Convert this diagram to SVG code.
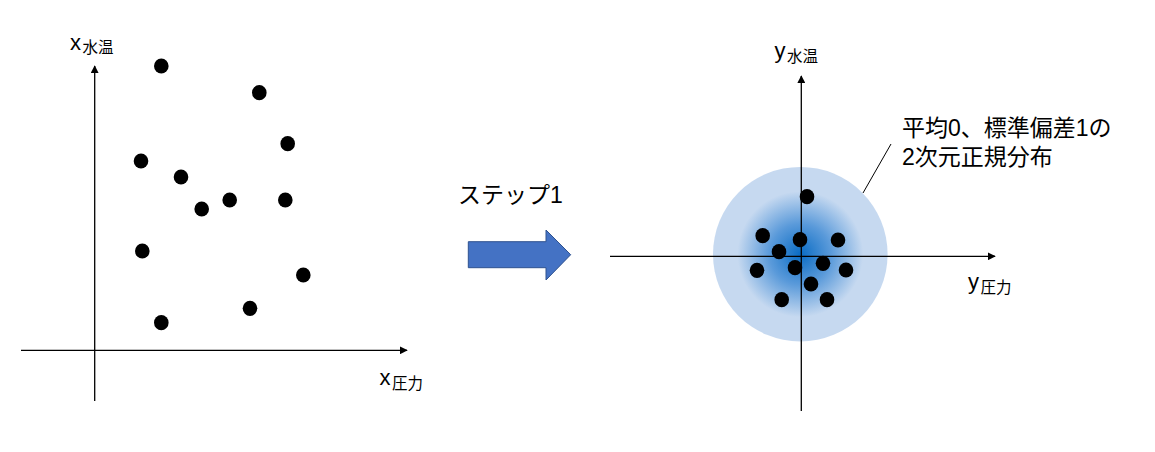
<svg xmlns="http://www.w3.org/2000/svg" width="1155" height="452" viewBox="0 0 1155 452">
<defs>
<style>
.ax{stroke:#000;stroke-width:1.3;fill:none}
.dot{fill:#000}
.t{font-family:"Liberation Sans","Noto Sans CJK JP",sans-serif;fill:#000}
.big{font-size:22px}
.sub{font-size:15.5px}
.lbl{font-size:23px}
</style>
<marker id="ah" viewBox="0 0 10 10" refX="9" refY="5" markerWidth="8" markerHeight="8" markerUnits="userSpaceOnUse" orient="auto">
<path d="M0,0 L10,5 L0,10 Z" fill="#000"/>
</marker>
<radialGradient id="rg" cx="0.5" cy="0.5" r="0.5">
<stop offset="0" stop-color="#0A6CC4"/>
<stop offset="0.35" stop-color="#5A9ADA"/>
<stop offset="0.72" stop-color="#C6D9F0"/>
<stop offset="1" stop-color="#C6D9F0"/>
</radialGradient>
</defs>
<rect width="1155" height="452" fill="#fff"/>

<g id="distribution">
<circle cx="800.3" cy="254.2" r="87.3" fill="url(#rg)"/>
</g>

<g id="connectors">
<line class="ax" x1="94.7" y1="401" x2="94.7" y2="66" marker-end="url(#ah)"/>
<line class="ax" x1="21" y1="350.3" x2="407" y2="350.3" marker-end="url(#ah)"/>
<line class="ax" x1="801.3" y1="411" x2="801.3" y2="76" marker-end="url(#ah)"/>
<line class="ax" x1="610" y1="256.3" x2="995" y2="256.3" marker-end="url(#ah)"/>
<line x1="863" y1="193" x2="891" y2="144" stroke="#000" stroke-width="1"/>
</g>

<g id="left-dots">
<ellipse class="dot" cx="161.3" cy="66" rx="7.3" ry="7.6"/>
<ellipse class="dot" cx="259.3" cy="92.7" rx="7.3" ry="7.6"/>
<ellipse class="dot" cx="287.7" cy="143.7" rx="7.3" ry="7.6"/>
<ellipse class="dot" cx="141" cy="161" rx="7.3" ry="7.6"/>
<ellipse class="dot" cx="181" cy="177" rx="7.3" ry="7.6"/>
<ellipse class="dot" cx="201.7" cy="209" rx="7.3" ry="7.6"/>
<ellipse class="dot" cx="229.7" cy="200" rx="7.3" ry="7.6"/>
<ellipse class="dot" cx="285.3" cy="200" rx="7.3" ry="7.6"/>
<ellipse class="dot" cx="142.3" cy="251" rx="7.3" ry="7.6"/>
<ellipse class="dot" cx="303.3" cy="275" rx="7.3" ry="7.6"/>
<ellipse class="dot" cx="250" cy="308.3" rx="7.3" ry="7.6"/>
<ellipse class="dot" cx="161.3" cy="322.7" rx="7.3" ry="7.6"/>
</g>

<g id="right-dots">
<ellipse class="dot" cx="807" cy="196.7" rx="7.3" ry="7.6"/>
<ellipse class="dot" cx="762.7" cy="235.7" rx="7.3" ry="7.6"/>
<ellipse class="dot" cx="800" cy="239.7" rx="7.3" ry="7.6"/>
<ellipse class="dot" cx="838" cy="240" rx="7.3" ry="7.6"/>
<ellipse class="dot" cx="779" cy="251.7" rx="7.3" ry="7.6"/>
<ellipse class="dot" cx="757" cy="270.3" rx="7.3" ry="7.6"/>
<ellipse class="dot" cx="795" cy="267.7" rx="7.3" ry="7.6"/>
<ellipse class="dot" cx="823" cy="263.3" rx="7.3" ry="7.6"/>
<ellipse class="dot" cx="846" cy="270" rx="7.3" ry="7.6"/>
<ellipse class="dot" cx="811" cy="284" rx="7.3" ry="7.6"/>
<ellipse class="dot" cx="781.7" cy="299.7" rx="7.3" ry="7.6"/>
<ellipse class="dot" cx="827" cy="299.7" rx="7.3" ry="7.6"/>
</g>

<g id="step-arrow">
<path d="M468.3,241.7 H546 V230 L570.7,254.7 L546,280 V267.7 H468.3 Z" fill="#4472C4" stroke="#2F528F" stroke-width="1"/>
<text class="t lbl" x="458" y="202.5">ステップ1</text>
</g>

<g id="labels">
<text class="t" x="70" y="49.5"><tspan class="big">x</tspan><tspan class="sub" dx="1.5" dy="3.5">水温</tspan></text>
<text class="t" x="379.5" y="385"><tspan class="big">x</tspan><tspan class="sub" dx="1.5" dy="3.5">圧力</tspan></text>
<text class="t" x="774.5" y="58"><tspan class="big">y</tspan><tspan class="sub" dx="1.5" dy="3.5">水温</tspan></text>
<text class="t" x="968" y="289"><tspan class="big">y</tspan><tspan class="sub" dx="1.5" dy="3.5">圧力</tspan></text>
<text class="t lbl" x="902" y="135.5">平均0、標準偏差1の</text>
<text class="t lbl" x="902" y="164.5">2次元正規分布</text>
</g>
</svg>
